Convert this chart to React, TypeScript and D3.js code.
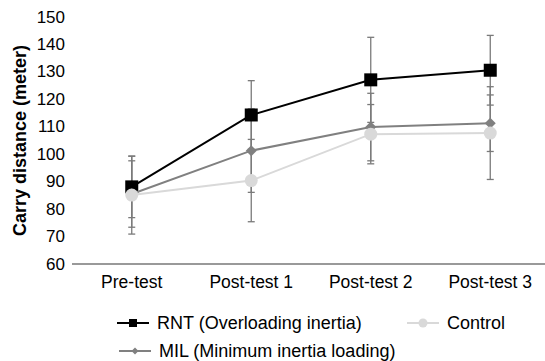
import * as d3 from "d3";

// Carry distance by test session, mean ± SD
const sessions = ["Pre-test", "Post-test 1", "Post-test 2", "Post-test 3"];
const yTicks = [60, 70, 80, 90, 100, 110, 120, 130, 140, 150];

const rntMean = [88.1, 114.3, 127.1, 130.6];
const rntSd = [11.2, 12.5, 15.5, 12.7];
const milMean = [85.5, 101.3, 109.9, 111.3];
const milSd = [12.1, 15.2, 12.3, 10.3];
const ctrlMean = [85.1, 90.4, 107.3, 107.7];
const ctrlSd = [14.2, 15.0, 10.8, 16.9];

const W = 545;
const H = 361;
const FONT = "'Liberation Sans', Arial, sans-serif";
const ERR_COLOR = "#7a7a7a";

type Series = {
  name: string;
  mean: number[];
  sd: number[];
  color: string;
  marker: "square" | "diamond" | "circle";
};

const series: Series[] = [
  { name: "RNT (Overloading inertia)", mean: rntMean, sd: rntSd, color: "#000000", marker: "square" },
  { name: "MIL (Minimum inertia loading)", mean: milMean, sd: milSd, color: "#808080", marker: "diamond" },
  { name: "Control", mean: ctrlMean, sd: ctrlSd, color: "#d9d9d9", marker: "circle" },
];

function Marker({ kind, x, y, color, size }: { kind: Series["marker"]; x: number; y: number; color: string; size: number }) {
  if (kind === "square") {
    return <rect x={x - size / 2} y={y - size / 2} width={size} height={size} fill={color} />;
  }
  if (kind === "diamond") {
    const s = size / 2;
    return <path d={`M${x},${y - s}L${x + s},${y}L${x},${y + s}L${x - s},${y}Z`} fill={color} />;
  }
  return <circle cx={x} cy={y} r={size / 2} fill={color} />;
}

export default function App() {
  const x = d3.scaleBand<string>().domain(sessions).range([72, 550]);
  const cx = (s: string) => (x(s) ?? 0) + x.bandwidth() / 2;
  const y = d3.scaleLinear().domain([60, 150]).range([264, 17]);

  const line = d3
    .line<number>()
    .x((_, i) => cx(sessions[i]))
    .y((d) => y(d));

  const markerSize = { square: 13, diamond: 11, circle: 13 };
  const legendSize = { square: 8, diamond: 7, circle: 9 };
  const legendPos = [
    { x: 117, y: 323 },
    { x: 119, y: 351 },
    { x: 407, y: 323 },
  ];

  return (
    <svg width={W} height={H} style={{ position: "absolute", left: 0, top: 0, background: "#fff" }} fontFamily={FONT}>
      {/* y tick labels */}
      {yTicks.map((t) => (
        <text key={t} x={65} y={y(t)} textAnchor="end" dominantBaseline="central" fontSize={17} fill="#000">
          {t}
        </text>
      ))}
      <text
        transform={`translate(20,${y(105)}) rotate(-90)`}
        textAnchor="middle"
        dominantBaseline="central"
        fontSize={18}
        fontWeight="bold"
        fill="#000"
      >
        Carry distance (meter)
      </text>

      {/* x axis */}
      <line x1={72} x2={W} y1={y(60)} y2={y(60)} stroke="#777" strokeWidth={1.5} />
      {sessions.map((s) => (
        <text key={s} x={cx(s)} y={y(60) + 18} textAnchor="middle" dominantBaseline="central" fontSize={17.5} fill="#000">
          {s}
        </text>
      ))}

      {/* error bars */}
      {series.map((sr) =>
        sr.mean.map((m, i) => {
          const px = cx(sessions[i]);
          const hi = y(m + sr.sd[i]);
          const lo = y(m - sr.sd[i]);
          return (
            <g key={sr.name + i} stroke={ERR_COLOR} strokeWidth={1.3}>
              <line x1={px} x2={px} y1={hi} y2={lo} />
              <line x1={px - 3.5} x2={px + 3.5} y1={hi} y2={hi} />
              <line x1={px - 3.5} x2={px + 3.5} y1={lo} y2={lo} />
            </g>
          );
        })
      )}

      {/* lines and markers */}
      {series.map((sr) => (
        <g key={sr.name}>
          <path d={line(sr.mean) ?? ""} fill="none" stroke={sr.color} strokeWidth={2} />
          {sr.mean.map((m, i) => (
            <Marker key={i} kind={sr.marker} x={cx(sessions[i])} y={y(m)} color={sr.color} size={markerSize[sr.marker]} />
          ))}
        </g>
      ))}

      {/* legend */}
      {series.map((sr, i) => {
        const p = legendPos[i];
        return (
          <g key={"lg" + sr.name}>
            <line x1={p.x} x2={p.x + 32} y1={p.y} y2={p.y} stroke={sr.color} strokeWidth={2} />
            <Marker kind={sr.marker} x={p.x + 16} y={p.y} color={sr.color} size={legendSize[sr.marker]} />
            <text x={p.x + 40} y={p.y} dominantBaseline="central" fontSize={18} fill="#000">
              {sr.name}
            </text>
          </g>
        );
      })}
    </svg>
  );
}
